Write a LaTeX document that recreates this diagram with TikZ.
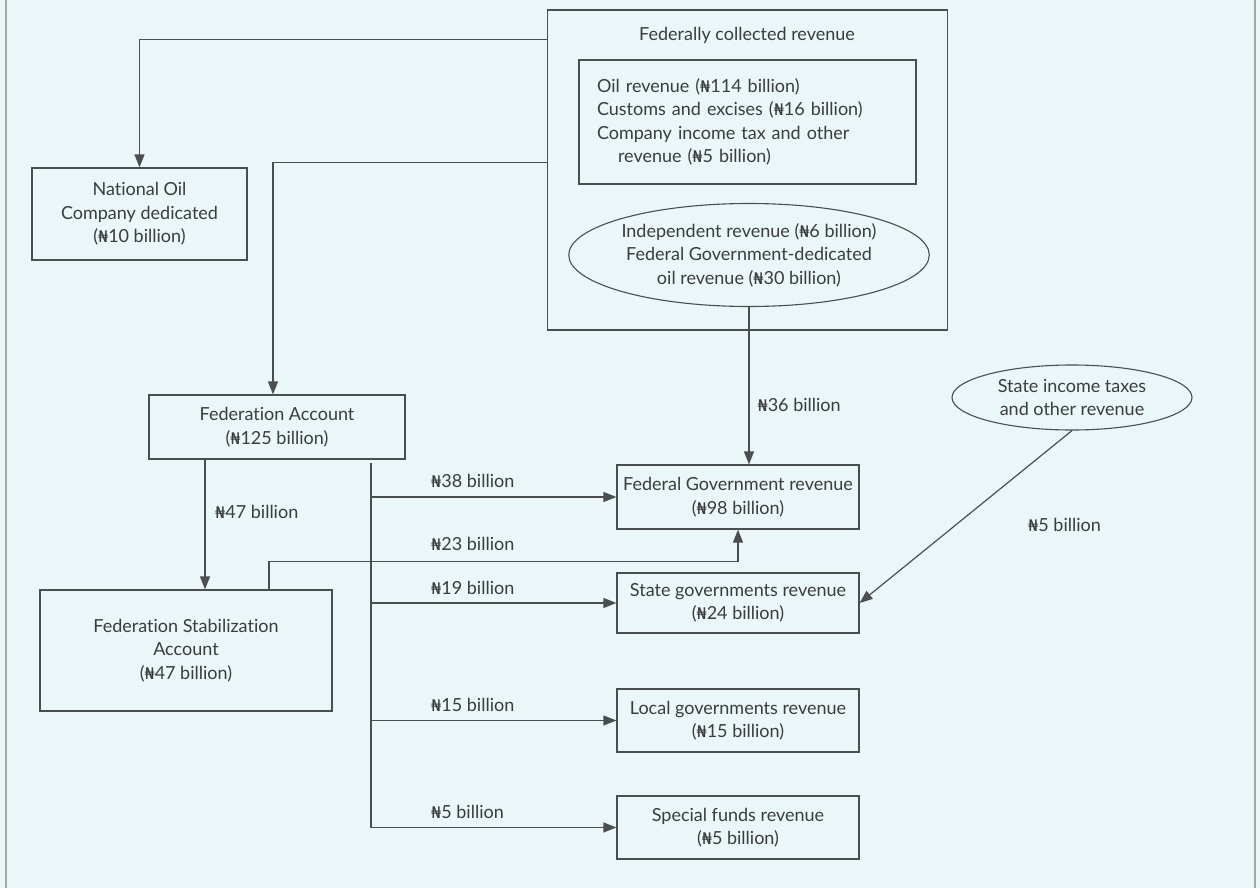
\documentclass[tikz,border=0pt]{standalone}
\usepackage{fontspec}
\setmainfont{Lato}[Ligatures=NoCommon]
\newfontfamily\nairafont{DejaVu Sans}
\usetikzlibrary{arrows.meta,shapes.geometric,positioning,calc}
\newcommand{\nai}{{\nairafont\fontsize{16}{16}\selectfont ₦}}
\definecolor{bgc}{HTML}{EAF6F8}
\definecolor{ln}{HTML}{4A4E50}
\definecolor{tx}{HTML}{3A3C3E}
\begin{document}
\begin{tikzpicture}[x=1pt,y=-1pt,
  every node/.style={font=\fontsize{18}{23.5}\selectfont,text=tx},
  box/.style={draw=ln,line width=1.2pt,rectangle,align=center,inner sep=0pt},
  oval/.style={draw=ln,line width=1.1pt,ellipse,align=center,inner sep=0pt},
  arr/.style={draw=ln,line width=1.2pt,-{Triangle[length=13pt,width=10pt]}},
  ln/.style={draw=ln,line width=1.2pt},
  lab/.style={anchor=west,inner sep=0pt}]
\fill[bgc] (0,0) rectangle (1260,888);
\useasboundingbox (0,0) rectangle (1260,888);
\draw[gray!70,line width=1.5pt] (6,0) -- (6,888);
\draw[gray!70,line width=1.5pt] (1255,0) -- (1255,888);

% federally collected revenue
\node[box,minimum width=400pt,minimum height=320pt] (fcr) at (747.5,170) {};
\node (fcrt) at (747,35) {Federally collected revenue};
\node[box,minimum width=337pt,minimum height=124pt,align=left,text width=301pt] (oil) at (747.5,122)
  {Oil revenue (\nai114 billion)\\Customs and excises (\nai16 billion)\\Company income tax and other\\\hspace*{21pt}revenue (\nai5 billion)};
\node[oval,minimum width=342pt,minimum height=103pt] (ell) at (749,255)
  {Independent revenue (\nai6 billion)\\Federal Government-dedicated\\oil revenue (\nai30 billion)};

\node[box,minimum width=215pt,minimum height=92pt] (noc) at (139.5,214)
  {National Oil\\Company dedicated\\(\nai10 billion)};
\node[box,minimum width=256pt,minimum height=64pt] (fa) at (277,427)
  {Federation Account\\(\nai125 billion)};
\node[box,minimum width=292pt,minimum height=121pt] (fsa) at (186,650.5)
  {Federation Stabilization\\Account\\(\nai47 billion)};

\node[box,minimum width=242pt,minimum height=64pt] (fgr) at (738,497)
  {Federal Government revenue\\(\nai98 billion)};
\node[box,minimum width=242pt,minimum height=60pt] (sgr) at (738,603)
  {State governments revenue\\(\nai24 billion)};
\node[box,minimum width=242pt,minimum height=63pt] (lgr) at (738,720.5)
  {Local governments revenue\\(\nai15 billion)};
\node[box,minimum width=242pt,minimum height=63pt] (sfr) at (738,827.5)
  {Special funds revenue\\(\nai5 billion)};
\node[oval,minimum width=240pt,minimum height=65pt] (sit) at (1072,397.5)
  {State income taxes\\and other revenue};

% connectors
\draw[arr] ([yshift=-30pt]fcr.north west) -| (noc.north);
\draw[arr] ([yshift=-153pt]fcr.north west) -| ([xshift=-4pt]fa.north);
\draw[arr] (ell.south) -- (ell.south |- fgr.north) node[lab,pos=0.62,xshift=8pt] {\nai36 billion};
\draw[arr] ([xshift=-72pt]fa.south) -- ([xshift=-72pt]fa.south |- fsa.north);
\node[lab] (l47) at (215,512) {\nai47 billion};

\coordinate (ttop) at (371,463);
\coordinate (tbot) at (371,827.5);
\draw[ln] (ttop) -- (tbot);
\draw[arr] (fgr.west -| ttop) -- (fgr.west);
\draw[arr] (sgr.west -| ttop) -- (sgr.west);
\draw[arr] (lgr.west -| ttop) -- (lgr.west);
\draw[arr] (sfr.west -| ttop) -- (sfr.west);
\node[lab] (l38) at (431,481) {\nai38 billion};
\node[lab] (l19) at (431,588) {\nai19 billion};
\node[lab] (l15) at (431,705) {\nai15 billion};
\node[lab] (l5) at (431,812) {\nai5 billion};

\draw[arr] ([xshift=83pt]fsa.north) |- ([yshift=-32pt]fgr.south) -- (fgr.south);
\node[lab] (l23) at (431,544) {\nai23 billion};

\draw[arr] (sit.south) -- (sgr.east);
\node[lab] (l5b) at (1028,525) {\nai5 billion};
\end{tikzpicture}
\end{document}
